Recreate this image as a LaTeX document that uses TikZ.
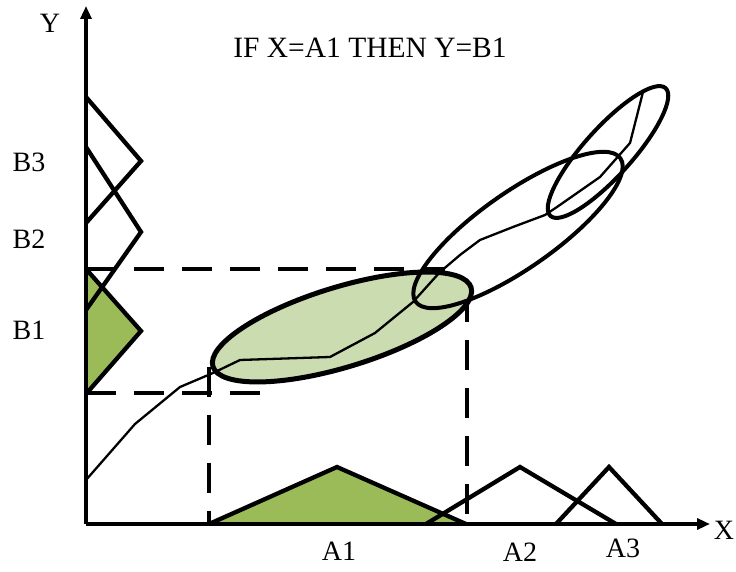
\documentclass[tikz,border=0pt]{standalone}
\usepackage{fontspec}
\setmainfont{Liberation Serif}
\usetikzlibrary{arrows.meta}
\definecolor{mfgreen}{HTML}{9BBB59}
\definecolor{relgreen}{HTML}{CCDCB1}
\tikzset{
  axisline/.style={line width=3.8pt,-{Triangle[length=13pt,width=11pt]}},
  mf/.style={line width=4.3pt,line join=miter},
  guide/.style={line width=3.2pt,dash pattern=on 30pt off 18pt},
  curveline/.style={line width=2.3pt,line join=round},
  relation/.style={line width=4pt},
  lbl/.style={font=\fontsize{28}{30}\selectfont,inner sep=0pt},
  ttl/.style={font=\fontsize{29.5}{32}\selectfont,inner sep=0pt}
}
\begin{document}
\begin{tikzpicture}[x=1pt,y=1pt]
\useasboundingbox (0,0) rectangle (736,572);
% axes points
\coordinate (O) at (86,48);
\coordinate (Ytip) at (86,566);
\coordinate (Xtip) at (710,48);
% Y membership functions
\coordinate (B3t) at (86,475); \coordinate (B3p) at (141,411); \coordinate (B3b) at (86,349);
\coordinate (B2t) at (86,425); \coordinate (B2p) at (141,340); \coordinate (B2b) at (86,262);
\coordinate (B1t) at (86,303); \coordinate (B1p) at (141,241); \coordinate (B1b) at (86,178);
% X membership functions
\coordinate (A1l) at (209,48); \coordinate (A1p) at (337,105); \coordinate (A1r) at (466,48);
\coordinate (A2l) at (426,48); \coordinate (A2p) at (520,105); \coordinate (A2r) at (616,48);
\coordinate (A3l) at (556,48); \coordinate (A3p) at (609,105); \coordinate (A3r) at (662,48);
% guide lines
\coordinate (Gu1) at (86,303); \coordinate (Gu2) at (445,303);
\coordinate (Gl1) at (86,179); \coordinate (Gl2) at (268,179);
\coordinate (Vl1) at (209,205); \coordinate (Vl2) at (209,48);
\coordinate (Vr1) at (467,280); \coordinate (Vr2) at (467,48);
% ellipse centres
\coordinate (E1) at (342,245);
\coordinate (E2) at (518,342);
\coordinate (E3) at (608,420);

\draw[guide] (Gu1) -- (Gu2);
\draw[guide] (Gl1) -- (Gl2);
\draw[guide] (Vl1) -- (Vl2);
\draw[guide] (Vr1) -- (Vr2);

% fills
\fill[mfgreen] (B1t) -- (B1p) -- (B1b) -- cycle;
\fill[mfgreen] (A1l) -- (A1p) -- (A1r) -- cycle;
% outlines
\draw[mf] (B3t) -- (B3p) -- (B3b);
\draw[mf] (B2t) -- (B2p) -- (B2b);
\draw[mf] (B1t) -- (B1p) -- (B1b);
\draw[mf] (A1l) -- (A1p) -- (A1r);
\draw[mf] (A2l) -- (A2p) -- (A2r);
\draw[mf] (A3l) -- (A3p) -- (A3r);

% axes
\draw[axisline] (O) -- (Ytip);
\draw[axisline] (O) -- (Xtip);

% relation ellipses
\draw[relation,line width=5pt,fill=relgreen,rotate around={17:(E1)}] (E1) ellipse [x radius=135, y radius=40];
\draw[curveline] (86,92) -- (135,148) -- (180,185) -- (213,199) -- (240,212) -- (330,215) -- (375,239) -- (413,270) -- (440,300) -- (460,317) -- (480,332) -- (513,345) -- (545,357) -- (557,365) -- (600,395) -- (630,429) -- (643,480);
\draw[relation,rotate around={35:(E2)}] (E2) ellipse [x radius=125, y radius=38];
\draw[relation,rotate around={48:(E3)}] (E3) ellipse [x radius=86, y radius=24];

% labels
\node[lbl] (ly) at (50,549) {Y};
\node[lbl] (lx) at (724,42) {X};
\node[lbl] (lb3) at (29,410) {B3};
\node[lbl] (lb2) at (29,333) {B2};
\node[lbl] (lb1) at (29,242) {B1};
\node[lbl] (la1) at (339,21) {A1};
\node[lbl] (la2) at (520,20) {A2};
\node[lbl] (la3) at (623,24) {A3};
\node[ttl] (title) at (370,524) {IF X=A1 THEN Y=B1};
\end{tikzpicture}
\end{document}
